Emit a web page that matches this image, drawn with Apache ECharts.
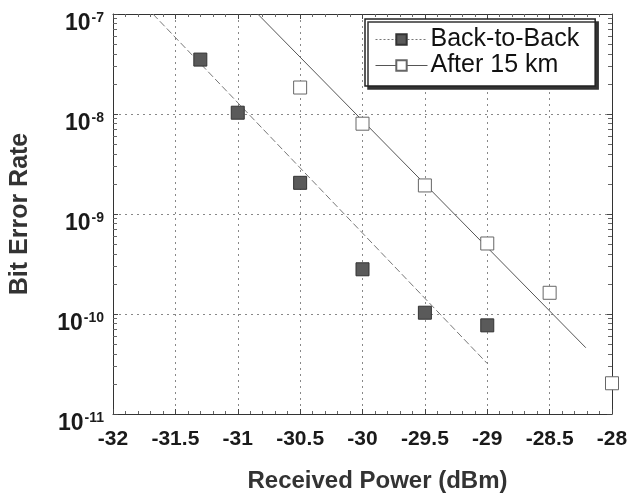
<!DOCTYPE html>
<html>
<head>
<meta charset="utf-8">
<script src="https://cdn.jsdelivr.net/npm/echarts@6/dist/echarts.min.js"></script>
<style>html,body{margin:0;padding:0;background:#fff;}#c{width:633px;height:498px;}</style>
</head>
<body>
<div id="c"></div>
<script>
// Data
var xTicks = [-32, -31.5, -31, -30.5, -30, -29.5, -29, -28.5, -28];
var yTicks = [1e-11, 1e-10, 1e-9, 1e-8, 1e-7];

var b2bPower = [-31.3, -31, -30.5, -30, -29.5, -29];
var b2bBER   = [3.5e-8, 1.03e-8, 2.05e-9, 2.8e-10, 1.03e-10, 7.7e-11];

var km15Power = [-30.5, -30, -29.5, -29, -28.5, -28];
var km15BER   = [1.84e-8, 8.0e-9, 1.93e-9, 5.07e-10, 1.63e-10, 2.03e-11];

var b2bFitPower = [-31.68, -29.0];
var b2bFitBER   = [1e-7, 3.2e-11];
var km15FitPower = [-30.84, -28.21];
var km15FitBER   = [1e-7, 4.6e-11];

function zip(a, b) { return a.map(function (v, i) { return [v, b[i]]; }); }

var chart = echarts.init(document.getElementById('c'), null, { renderer: 'canvas' });
var txt = '#1a1a1a';
var font = 'Liberation Sans';

function yFmt(v) {
  var e = Math.round(Math.log10(v));
  return '{b|10}{s|' + e + '}';
}

chart.setOption({
  backgroundColor: '#fff',
  animation: false,
  textStyle: { fontFamily: font },
  grid: { left: 112, right: 21, top: 14, bottom: 82, containLabel: false },
  legend: {
    left: 365, top: 19, width: 240, height: 66,
    orient: 'vertical',
    backgroundColor: '#fff',
    borderColor: '#222', borderWidth: 1.5,
    shadowColor: '#333', shadowBlur: 0, shadowOffsetX: 3, shadowOffsetY: 3,
    padding: [8, 16, 8, 10],
    itemGap: 1,
    itemWidth: 52, itemHeight: 13,
    textStyle: { fontSize: 25, color: '#111', fontFamily: font, padding: [0, 0, 0, -2] },
    data: [
      { name: 'Back-to-Back', lineStyle: { type: [2, 2], color: '#777', width: 1, opacity: 1 } },
      { name: 'After 15 km', lineStyle: { type: 'solid', color: '#555', width: 1, opacity: 1 } }
    ]
  },
  xAxis: [{
    type: 'value', min: -32, max: -28, interval: 0.5,
    position: 'bottom',
    axisLine: { show: true, onZero: false, lineStyle: { color: '#333', width: 1 } },
    axisTick: { show: true, inside: true, length: 5, lineStyle: { color: '#444' } },
    minorTick: { show: true, splitNumber: 5, length: 3, lineStyle: { color: '#666' } },
    axisLabel: {
      margin: 15, fontSize: 21, fontWeight: 700, color: txt, fontFamily: font,
      formatter: function (v) { return xTicks.indexOf(v) >= 0 ? String(v) : ''; }
    },
    splitLine: { show: true, lineStyle: { color: '#888', type: [2, 4], width: 1 } },
    name: 'Received Power (dBm)', nameLocation: 'middle', nameGap: 55,
    nameTextStyle: { fontSize: 24, fontWeight: 700, color: '#333', fontFamily: font, padding: [0, 0, 0, 30] }
  }, {
    type: 'value', min: -32, max: -28, interval: 0.5, position: 'top',
    axisLine: { show: true, onZero: false, lineStyle: { color: '#333' } },
    axisTick: { show: true, inside: true, length: 5, lineStyle: { color: '#444' } },
    minorTick: { show: true, splitNumber: 5, length: 3, lineStyle: { color: '#666' } },
    axisLabel: { show: false }, splitLine: { show: false }
  }],
  yAxis: [{
    type: 'log', logBase: 10, min: 1e-11, max: 1e-7,
    axisLine: { show: true, onZero: false, lineStyle: { color: '#333', width: 1 } },
    axisTick: { show: true, inside: true, length: 5, lineStyle: { color: '#444' } },
    minorTick: { show: true, splitNumber: 9, length: 4, lineStyle: { color: '#666' } },
    axisLabel: {
      margin: 9, color: txt, formatter: yFmt,
      padding: [20, 0, 0, 0],
      rich: {
        b: { fontSize: 23, fontWeight: 700, color: txt, fontFamily: font },
        s: { fontSize: 14, fontWeight: 700, color: txt, fontFamily: font, verticalAlign: 'top', padding: [0, 0, 12, 1] }
      }
    },
    splitLine: { show: true, lineStyle: { color: '#888', type: [2, 4], width: 1 } },
    name: 'Bit Error Rate', nameLocation: 'middle', nameGap: 80, nameRotate: 90,
    nameTextStyle: { fontSize: 25, fontWeight: 700, color: '#333', fontFamily: font, padding: [0, 0, 0, 0] }
  }, {
    type: 'log', logBase: 10, min: 1e-11, max: 1e-7, position: 'right',
    axisLine: { show: true, onZero: false, lineStyle: { color: '#333' } },
    axisTick: { show: true, inside: true, length: 5, lineStyle: { color: '#444' } },
    minorTick: { show: true, splitNumber: 9, length: 4, lineStyle: { color: '#666' } },
    axisLabel: { show: false }, splitLine: { show: false }
  }],
  series: [
    {
      name: 'fitB2B', type: 'line', data: zip(b2bFitPower, b2bFitBER),
      symbol: 'none', silent: true,
      lineStyle: { color: '#777', width: 1, type: [7, 3] }, z: 2
    },
    {
      name: 'fit15', type: 'line', data: zip(km15FitPower, km15FitBER),
      symbol: 'none', silent: true,
      lineStyle: { color: '#555', width: 1, type: 'solid' }, z: 2
    },
    {
      name: 'Back-to-Back', type: 'line', data: zip(b2bPower, b2bBER),
      symbol: 'rect', symbolSize: 13,
      itemStyle: { color: '#5a5a5a', borderColor: '#333', borderWidth: 1 },
      lineStyle: { opacity: 0 }, z: 5
    },
    {
      name: 'After 15 km', type: 'line', data: zip(km15Power, km15BER),
      symbol: 'rect', symbolSize: 13,
      itemStyle: { color: '#fff', borderColor: '#666', borderWidth: 1 },
      lineStyle: { opacity: 0 }, z: 5
    }
  ]
});
</script>
</body>
</html>
